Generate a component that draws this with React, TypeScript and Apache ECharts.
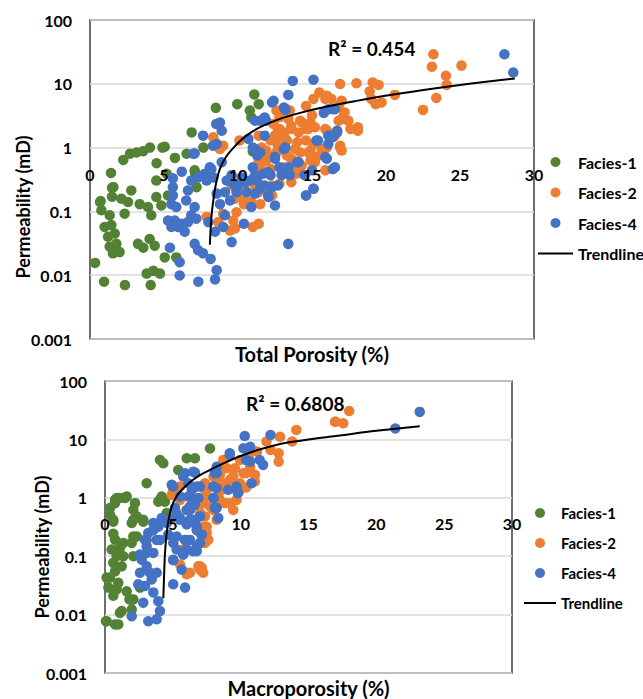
import React, { useEffect, useRef } from "react";
import * as echarts from "echarts";

const FONT = 'Lato, "Liberation Sans", sans-serif';

const yTickLabels = ["0.001", "0.01", "0.1", "1", "10", "100"];
const seriesNames = ["Facies-1", "Facies-2", "Facies-4"];
const seriesColors = ["#548235", "#ED7D31", "#4472C4"];

// ---- Top chart: Total Porosity (%) vs Permeability (mD)
const topFacies1 = [
  [0.34, 0.0156], [0.95, 0.0079], [2.36, 0.007], [4.1, 0.007], [3.83, 0.0106], [4.28, 0.0117], [4.73, 0.0106],
  [0.68, 0.14], [0.77, 0.104], [1.42, 0.4], [1.58, 0.24], [2.25, 0.64], [2.7, 0.8], [3.15, 0.84], [3.6, 0.88],
  [4.05, 1.0], [4.5, 0.57], [4.9, 1.0], [5.05, 1.03], [5.74, 0.69], [6.53, 0.8], [6.87, 1.73], [7.66, 1.0],
  [8.5, 4.2], [9.95, 4.8], [10.8, 3.8], [11.1, 6.8], [11.4, 4.8], [10.9, 2.97], [11.0, 0.87], [7.1, 0.4], [7.2, 0.24],
  [1.49, 0.234], [1.49, 0.17], [0.72, 0.145], [1.33, 0.087], [2.12, 0.158], [2.79, 0.213], [2.57, 0.14], [2.34, 0.092],
  [3.36, 0.13], [3.92, 0.117], [4.48, 0.168], [4.82, 0.124], [4.14, 0.087],
  [0.99, 0.057], [1.44, 0.061], [1.67, 0.045], [1.22, 0.04], [1.33, 0.028], [1.78, 0.031], [2.0, 0.023], [1.55, 0.022],
  [3.24, 0.031], [3.6, 0.027], [4.03, 0.037], [4.37, 0.029], [5.05, 0.019], [5.83, 0.019],
  [4.48, 0.305], [5.27, 0.178], [7.07, 0.44], [5.18, 0.39],
];
const topFacies2 = [
  [16.9, 9.9], [15.5, 7.3], [16.0, 6.5], [15.1, 5.8], [14.6, 4.5], [13.5, 3.8], [12.6, 3.8], [12.8, 3.0], [13.4, 2.8],
  [14.2, 2.64], [14.9, 2.48], [14.6, 1.96], [14.1, 1.73], [13.1, 1.73], [12.6, 1.45], [12.2, 1.29], [13.3, 1.29],
  [14.0, 1.21], [14.6, 1.29], [15.1, 1.14], [16.0, 1.84], [16.9, 1.0], [17.1, 2.8],
  [11.9, 0.9], [12.6, 0.84], [13.3, 0.75], [14.2, 0.84], [14.9, 0.9], [15.3, 0.71], [13.7, 0.52], [11.9, 0.63],
  [11.4, 0.63], [12.2, 0.46], [12.8, 0.27], [11.8, 0.226], [11.3, 0.2], [10.25, 0.168], [10.4, 0.13], [10.9, 0.14],
  [11.5, 0.13], [12.3, 0.178], [9.68, 0.072], [9.8, 0.054], [9.46, 0.05], [11.0, 0.057], [11.4, 0.064], [7.88, 0.082],
  [9.0, 0.092], [8.45, 1.21], [8.78, 0.95], [9.0, 1.07], [12.8, 1.96], [14.9, 0.63], [16.0, 1.0],
  [16.3, 5.8], [16.8, 2.64], [15.2, 2.08], [13.6, 2.2], [12.4, 2.34], [11.6, 1.0], [11.6, 0.44], [10.1, 1.29],
  [10.4, 0.24], [9.9, 0.097], [8.33, 1.45], [8.67, 0.068],
  [15.9, 5.8], [17.1, 3.0], [16.8, 4.5], [15.0, 3.2], [14.3, 2.5], [13.6, 1.96], [14.75, 1.96], [15.9, 1.96],
  [16.55, 1.54], [16.9, 1.07], [15.65, 0.95], [14.75, 0.84], [13.85, 0.95], [13.2, 1.37], [12.5, 1.54], [12.7, 1.07],
  [13.6, 0.67], [15.2, 0.59], [14.3, 0.52], [13.1, 0.49], [12.05, 0.75], [11.6, 0.59], [11.15, 0.255], [10.4, 0.178],
  [11.4, 0.2], [12.3, 0.255], [13.6, 0.287], [13.95, 0.39], [15.9, 0.44], [9.8, 0.158], [9.57, 0.255], [13.3, 4.0],
  [12.7, 1.96], [11.4, 1.54],
  [23.2, 29], [23.1, 18.5], [25.1, 19.3], [24.05, 13.4], [24.1, 9.6], [23.4, 6.0], [22.5, 3.9], [20.6, 6.7],
  [19.5, 9.6], [19.1, 10.5], [18.0, 10.2], [18.9, 7.6], [19.0, 5.8], [19.3, 4.8], [19.7, 5.1], [17.0, 5.4],
  [17.2, 3.56], [17.45, 2.64], [18.1, 2.08], [18.1, 1.84], [17.6, 1.96], [17.0, 0.9],
];
const topFacies4 = [
  [7.64, 1.54], [7.07, 0.81], [8.53, 2.34], [8.31, 1.07], [8.2, 0.46], [7.75, 0.39], [7.3, 0.34], [6.84, 0.305],
  [5.6, 0.24], [5.6, 0.178], [5.5, 0.13], [5.83, 0.117], [6.62, 0.213], [6.5, 0.148], [7.07, 0.117], [6.84, 0.087],
  [5.27, 0.072], [5.72, 0.072], [6.17, 0.064], [6.62, 0.068], [7.18, 0.077], [5.5, 0.057], [5.95, 0.057], [6.4, 0.048],
  [7.07, 0.031], [7.3, 0.0247], [7.64, 0.022], [5.4, 0.027], [6.06, 0.016], [6.06, 0.0099], [7.32, 0.0079],
  [8.15, 0.018], [8.45, 0.0086], [8.56, 0.012],
  [13.7, 11.1], [15.1, 11.6], [13.4, 6.7], [12.3, 5.1], [13.2, 3.9], [15.8, 3.5], [16.4, 4.0], [8.78, 2.48],
  [8.9, 1.84], [8.56, 1.14], [10.7, 1.37], [11.9, 2.64], [11.5, 2.64], [11.8, 1.54], [11.15, 0.95], [11.3, 0.75],
  [13.1, 0.95], [12.5, 0.71], [15.4, 1.29], [16.1, 1.54], [16.7, 1.73], [16.0, 0.67], [16.4, 0.46], [15.1, 0.226],
  [14.6, 0.178], [14.0, 0.59], [13.4, 0.49], [12.8, 0.49], [13.5, 0.37], [12.95, 0.37], [12.2, 0.37], [11.7, 0.39],
  [11.0, 0.49], [11.3, 0.305], [10.8, 0.305], [10.25, 0.34], [9.68, 0.27], [9.24, 0.305], [8.33, 0.34], [7.88, 0.305],
  [8.1, 0.49], [8.9, 0.59], [8.56, 0.19], [9.12, 0.2], [9.46, 0.148], [8.78, 0.13], [9.9, 0.2], [10.6, 0.2],
  [11.5, 0.226], [12.3, 0.24], [12.5, 0.124], [12.05, 0.168], [10.9, 0.117], [10.4, 0.064], [9.12, 0.087],
  [9.0, 0.057], [8.45, 0.048], [9.57, 0.033], [13.4, 0.031], [8.0, 0.068],
  [12.4, 5.4], [13.1, 4.25], [11.8, 2.97], [11.15, 2.64], [11.0, 1.0], [11.5, 0.84], [13.2, 1.0], [15.3, 1.29],
  [16.3, 1.54], [16.1, 1.14], [15.9, 0.71], [12.5, 0.67], [14.1, 0.59], [14.5, 0.37], [15.0, 0.44], [12.05, 0.41],
  [11.15, 0.37], [10.5, 0.287], [11.8, 0.255], [12.7, 0.255], [11.15, 0.19], [12.05, 0.178], [9.57, 0.37],
  [10.0, 0.255], [14.6, 0.178], [15.1, 0.226], [16.1, 4.0],
  [28.0, 29], [28.6, 15], [16.55, 4.0], [16.7, 1.84], [16.4, 1.45], [16.55, 0.49], [6.98, 0.8], [5.6, 0.33], [6.2, 0.42],
];
const topTrend = [
  [8.1, 0.03], [8.2, 0.08], [8.35, 0.16], [8.55, 0.3], [8.8, 0.48], [9.2, 0.72], [9.7, 1.0], [10.5, 1.5],
  [11.5, 2.1], [12.7, 2.75], [14.2, 3.5], [16, 4.4], [18, 5.4], [20.5, 6.8], [23, 8.3], [25.5, 9.9], [28.7, 12.1],
];

// ---- Bottom chart: Macroporosity (%) vs Permeability (mD)
const botFacies1 = [
  [0.12, 0.0077], [0.74, 0.0068], [0.98, 0.0068], [1.1, 0.0107], [1.97, 0.0122], [2.09, 0.0182], [1.8, 0.0182],
  [2.58, 0.029], [0.37, 0.043], [0.25, 0.029], [0.74, 0.027], [0.98, 0.035], [0.74, 0.055], [1.23, 0.067],
  [0.61, 0.077], [0.86, 0.1], [1.35, 0.1], [0.49, 0.13], [1.1, 0.138], [0.74, 0.192], [1.35, 0.169], [1.97, 0.169],
  [2.09, 0.218], [0.61, 0.243], [0.61, 0.39], [1.97, 0.37], [2.82, 0.39], [0.37, 0.67], [0.74, 0.81], [0.86, 0.99],
  [1.6, 1.05], [2.21, 0.81], [2.09, 0.62], [2.34, 0.48], [3.07, 1.78], [3.93, 0.86], [4.18, 1.05], [4.05, 4.45],
  [4.3, 3.9], [5.4, 3.0], [6.02, 4.75], [6.63, 4.75], [7.74, 7.0],
  [0.37, 0.51], [0.61, 0.42], [2.09, 0.42], [2.34, 0.218], [2.09, 0.1], [0.12, 0.043], [0.86, 0.027], [1.6, 0.025],
  [0.61, 0.021], [1.23, 0.0115], [1.97, 0.018], [0.74, 0.92], [1.1, 0.99], [1.47, 0.99], [4.05, 0.92], [4.42, 0.86],
  [4.55, 0.55], [0.07, 0.0077], [2.82, 0.42],
];
const botFacies2 = [
  [17.0, 20.0], [14.1, 14.5], [13.8, 9.2], [12.9, 11.1], [11.9, 9.2], [12.2, 6.6], [12.8, 5.8], [12.8, 4.17],
  [11.2, 6.2], [10.6, 5.4], [9.95, 4.45], [9.58, 3.2], [10.2, 2.64], [11.05, 2.47], [11.05, 1.9], [8.72, 4.45],
  [8.97, 3.2], [8.47, 2.47], [9.21, 2.03], [8.72, 1.78], [9.7, 0.92], [9.45, 0.62], [8.84, 0.81], [8.47, 1.28],
  [7.37, 1.78], [7.37, 1.05], [7.74, 0.71], [7.37, 0.48], [7.24, 0.32], [7.49, 0.25], [7.37, 0.169], [6.88, 0.067],
  [7.24, 0.052], [6.26, 0.052], [6.02, 0.052], [7.13, 0.063], [5.53, 0.072], [4.92, 1.12], [7.37, 1.37], [7.24, 0.81],
  [7.13, 0.28], [7.61, 0.19], [6.02, 0.049], [7.0, 0.059], [5.53, 1.56], [5.9, 0.19], [7.13, 0.18],
  [9.9, 1.3], [10.4, 1.5], [8.0, 2.3],
  [8.47, 3.4], [9.45, 2.31], [9.95, 1.78], [8.97, 1.78], [8.23, 2.03], [7.49, 1.37], [8.47, 0.92], [9.21, 0.81],
  [7.24, 0.81], [7.0, 0.55], [7.98, 0.62], [8.23, 0.42], [7.49, 0.32], [7.0, 0.25], [7.49, 0.19], [5.53, 0.92],
  [5.28, 0.55], [5.03, 1.37], [5.77, 0.13], [7.0, 0.067], [10.7, 3.4], [10.4, 2.64],
  [18.0, 30.6], [16.95, 20], [17.56, 18.9],
];
const botFacies4 = [
  [3.19, 0.25], [3.07, 0.148], [2.7, 0.087], [3.07, 0.067], [2.58, 0.052], [3.32, 0.052], [2.95, 0.031], [3.56, 0.024],
  [2.82, 0.016], [3.93, 0.017], [4.05, 0.0115], [1.97, 0.0094], [3.19, 0.0077], [3.81, 0.0083], [5.03, 0.033],
  [5.9, 0.029], [5.65, 0.059], [5.77, 0.107], [5.28, 0.13], [6.5, 0.122], [6.76, 0.148], [5.9, 0.19], [5.03, 0.169],
  [4.66, 0.234], [4.05, 0.19], [3.93, 0.32], [3.56, 0.37], [4.18, 0.45], [4.55, 0.37], [5.53, 0.45], [6.02, 0.35],
  [6.76, 0.32], [7.0, 0.48], [5.16, 0.67], [6.02, 0.62], [6.63, 0.76], [5.53, 1.05], [6.26, 1.05], [7.0, 1.56],
  [6.88, 0.99], [6.14, 1.78], [4.92, 1.67], [5.9, 2.64], [6.63, 2.7], [5.28, 0.51], [6.26, 0.42], [2.95, 0.19],
  [3.56, 0.114], [2.58, 0.107], [3.44, 0.04], [3.81, 0.052], [2.45, 0.033], [5.03, 0.085],
  [10.3, 11.4], [12.2, 11.9], [10.2, 7.05], [9.2, 5.4], [10.7, 4.17], [11.4, 4.45], [11.65, 3.66], [10.8, 1.78],
  [8.1, 2.64], [8.23, 1.46], [9.08, 1.37], [9.7, 1.56], [9.8, 1.2], [8.0, 0.99], [8.1, 0.67], [8.35, 0.45],
  [6.4, 1.37], [6.26, 0.71], [6.63, 0.37], [7.13, 0.234], [7.0, 0.169], [6.76, 0.122], [6.5, 2.8],
  [8.23, 2.64], [6.76, 1.56], [7.98, 1.56], [7.98, 0.99], [8.23, 0.67], [9.7, 1.37], [5.77, 2.31], [5.03, 1.56],
  [6.14, 1.05], [6.26, 0.62], [5.53, 0.42], [6.5, 0.42], [4.79, 0.42], [4.05, 0.37], [3.56, 0.28], [3.07, 0.19],
  [3.81, 0.19], [5.28, 0.218], [6.26, 0.19], [6.76, 0.28], [6.02, 0.13], [5.03, 0.087], [5.77, 0.107], [3.07, 0.114],
  [10.7, 7.5], [10.4, 4.45], [9.2, 5.8], [8.23, 3.4],
  [23.2, 29.6], [21.4, 15.4],
];
const botTrend = [
  [4.3, 0.019], [4.36, 0.05], [4.42, 0.11], [4.55, 0.25], [4.75, 0.5], [5.05, 0.85], [5.5, 1.25], [6.2, 1.8],
  [7.0, 2.45], [7.8, 3.05], [8.7, 3.85], [9.9, 5.1], [11.2, 6.5], [12.4, 7.8], [13.6, 8.9], [15.4, 10.3],
  [17.3, 11.7], [20, 14.0], [23.2, 16.8],
];

const topR2 = "R² = 0.454";
const botR2 = "R² = 0.6808";
const topXTitle = "Total Porosity (%)";
const botXTitle = "Macroporosity (%)";
const yTitle = "Permeability (mD)";

function yFmt(v: number) {
  const i = Math.round(Math.log10(v)) + 3;
  return yTickLabels[i] ?? String(v);
}

function makeX(gridIndex: number, name: string, labelMargin: number) {
  return {
    type: "value",
    gridIndex,
    min: 0,
    max: 30,
    interval: 5,
    z: 10,
    name,
    nameLocation: "middle",
    nameGap: 5,
    nameTextStyle: { fontFamily: FONT, fontWeight: "bold", fontSize: 20, color: "#000", verticalAlign: "top" },
    axisLine: { show: false },
    axisTick: { show: false },
    splitLine: { show: false },
    axisLabel: { margin: labelMargin, fontFamily: FONT, fontWeight: "bold", fontSize: 16, color: "#000" },
  };
}

function makeY(gridIndex: number) {
  return {
    type: "log",
    logBase: 10,
    gridIndex,
    min: 0.001,
    max: 100,
    axisLine: { show: false },
    axisTick: { show: false },
    splitLine: { show: true, lineStyle: { color: "#d9d9d9", width: 1.5 } },
    axisLabel: { margin: 18, fontFamily: FONT, fontWeight: "bold", fontSize: 16, color: "#000", formatter: yFmt },
  };
}

function scatter(name: string, color: string, data: number[][], idx: number) {
  return {
    type: "scatter",
    name,
    xAxisIndex: idx,
    yAxisIndex: idx,
    data,
    symbol: "circle",
    symbolSize: 10.5,
    itemStyle: { color, opacity: 1 },
  };
}

function trend(data: number[][], idx: number) {
  return {
    type: "line",
    name: "Trendline",
    xAxisIndex: idx,
    yAxisIndex: idx,
    data,
    symbol: "none",
    smooth: 0.35,
    lineStyle: { color: "#000", width: 2 },
    itemStyle: { color: "#000", opacity: 0 },
    z: 5,
  };
}

export default function App() {
  const ref = useRef<HTMLDivElement>(null);
  useEffect(() => {
    if (!ref.current) return;
    const chart = echarts.init(ref.current, undefined, { renderer: "svg" });
    const legendData = [...seriesNames, { name: "Trendline", itemStyle: { opacity: 0 } }];
    chart.setOption({
      animation: false,
      backgroundColor: "#fff",
      grid: [
        { left: 90, top: 20, width: 444, height: 319, show: true, borderColor: "#404040", borderWidth: 1.5, backgroundColor: "transparent" },
        { left: 105, top: 381, width: 407, height: 293, show: true, borderColor: "#404040", borderWidth: 1.5, backgroundColor: "transparent" },
      ],
      xAxis: [makeX(0, topXTitle, -173), makeX(1, botXTitle, -158)],
      yAxis: [makeY(0), makeY(1)],
      legend: [
        {
          orient: "vertical",
          left: 532,
          top: 147,
          itemWidth: 35,
          itemHeight: 10,
          itemGap: 10.5,
          data: legendData,
          textStyle: { fontFamily: FONT, fontWeight: "bold", fontSize: 16, color: "#000", lineHeight: 20 },
        },
        {
          orient: "vertical",
          left: 518,
          top: 499,
          itemWidth: 32,
          itemHeight: 10,
          itemGap: 12,
          data: legendData,
          textStyle: { fontFamily: FONT, fontWeight: "bold", fontSize: 15, color: "#000", lineHeight: 18 },
        },
      ],
      graphic: [
        { type: "text", x: 23, y: 207, rotation: Math.PI / 2, style: { text: yTitle, font: `bold 18px ${FONT}`, fill: "#000", align: "center", verticalAlign: "middle" } },
        { type: "text", x: 42, y: 547, rotation: Math.PI / 2, style: { text: yTitle, font: `bold 18px ${FONT}`, fill: "#000", align: "center", verticalAlign: "middle" } },
        { type: "text", x: 328, y: 48, style: { text: topR2, font: `bold 19px ${FONT}`, fill: "#000", align: "left", verticalAlign: "middle" } },
        { type: "text", x: 246, y: 403, style: { text: botR2, font: `bold 19px ${FONT}`, fill: "#000", align: "left", verticalAlign: "middle" } },
      ],
      series: [
        scatter(seriesNames[0], seriesColors[0], topFacies1, 0),
        scatter(seriesNames[1], seriesColors[1], topFacies2, 0),
        scatter(seriesNames[2], seriesColors[2], topFacies4, 0),
        trend(topTrend, 0),
        scatter(seriesNames[0], seriesColors[0], botFacies1, 1),
        scatter(seriesNames[1], seriesColors[1], botFacies2, 1),
        scatter(seriesNames[2], seriesColors[2], botFacies4, 1),
        trend(botTrend, 1),
      ],
    });
    return () => chart.dispose();
  }, []);
  return <div ref={ref} style={{ position: "fixed", left: 0, top: 0, width: 643, height: 699, background: "#fff" }} />;
}
